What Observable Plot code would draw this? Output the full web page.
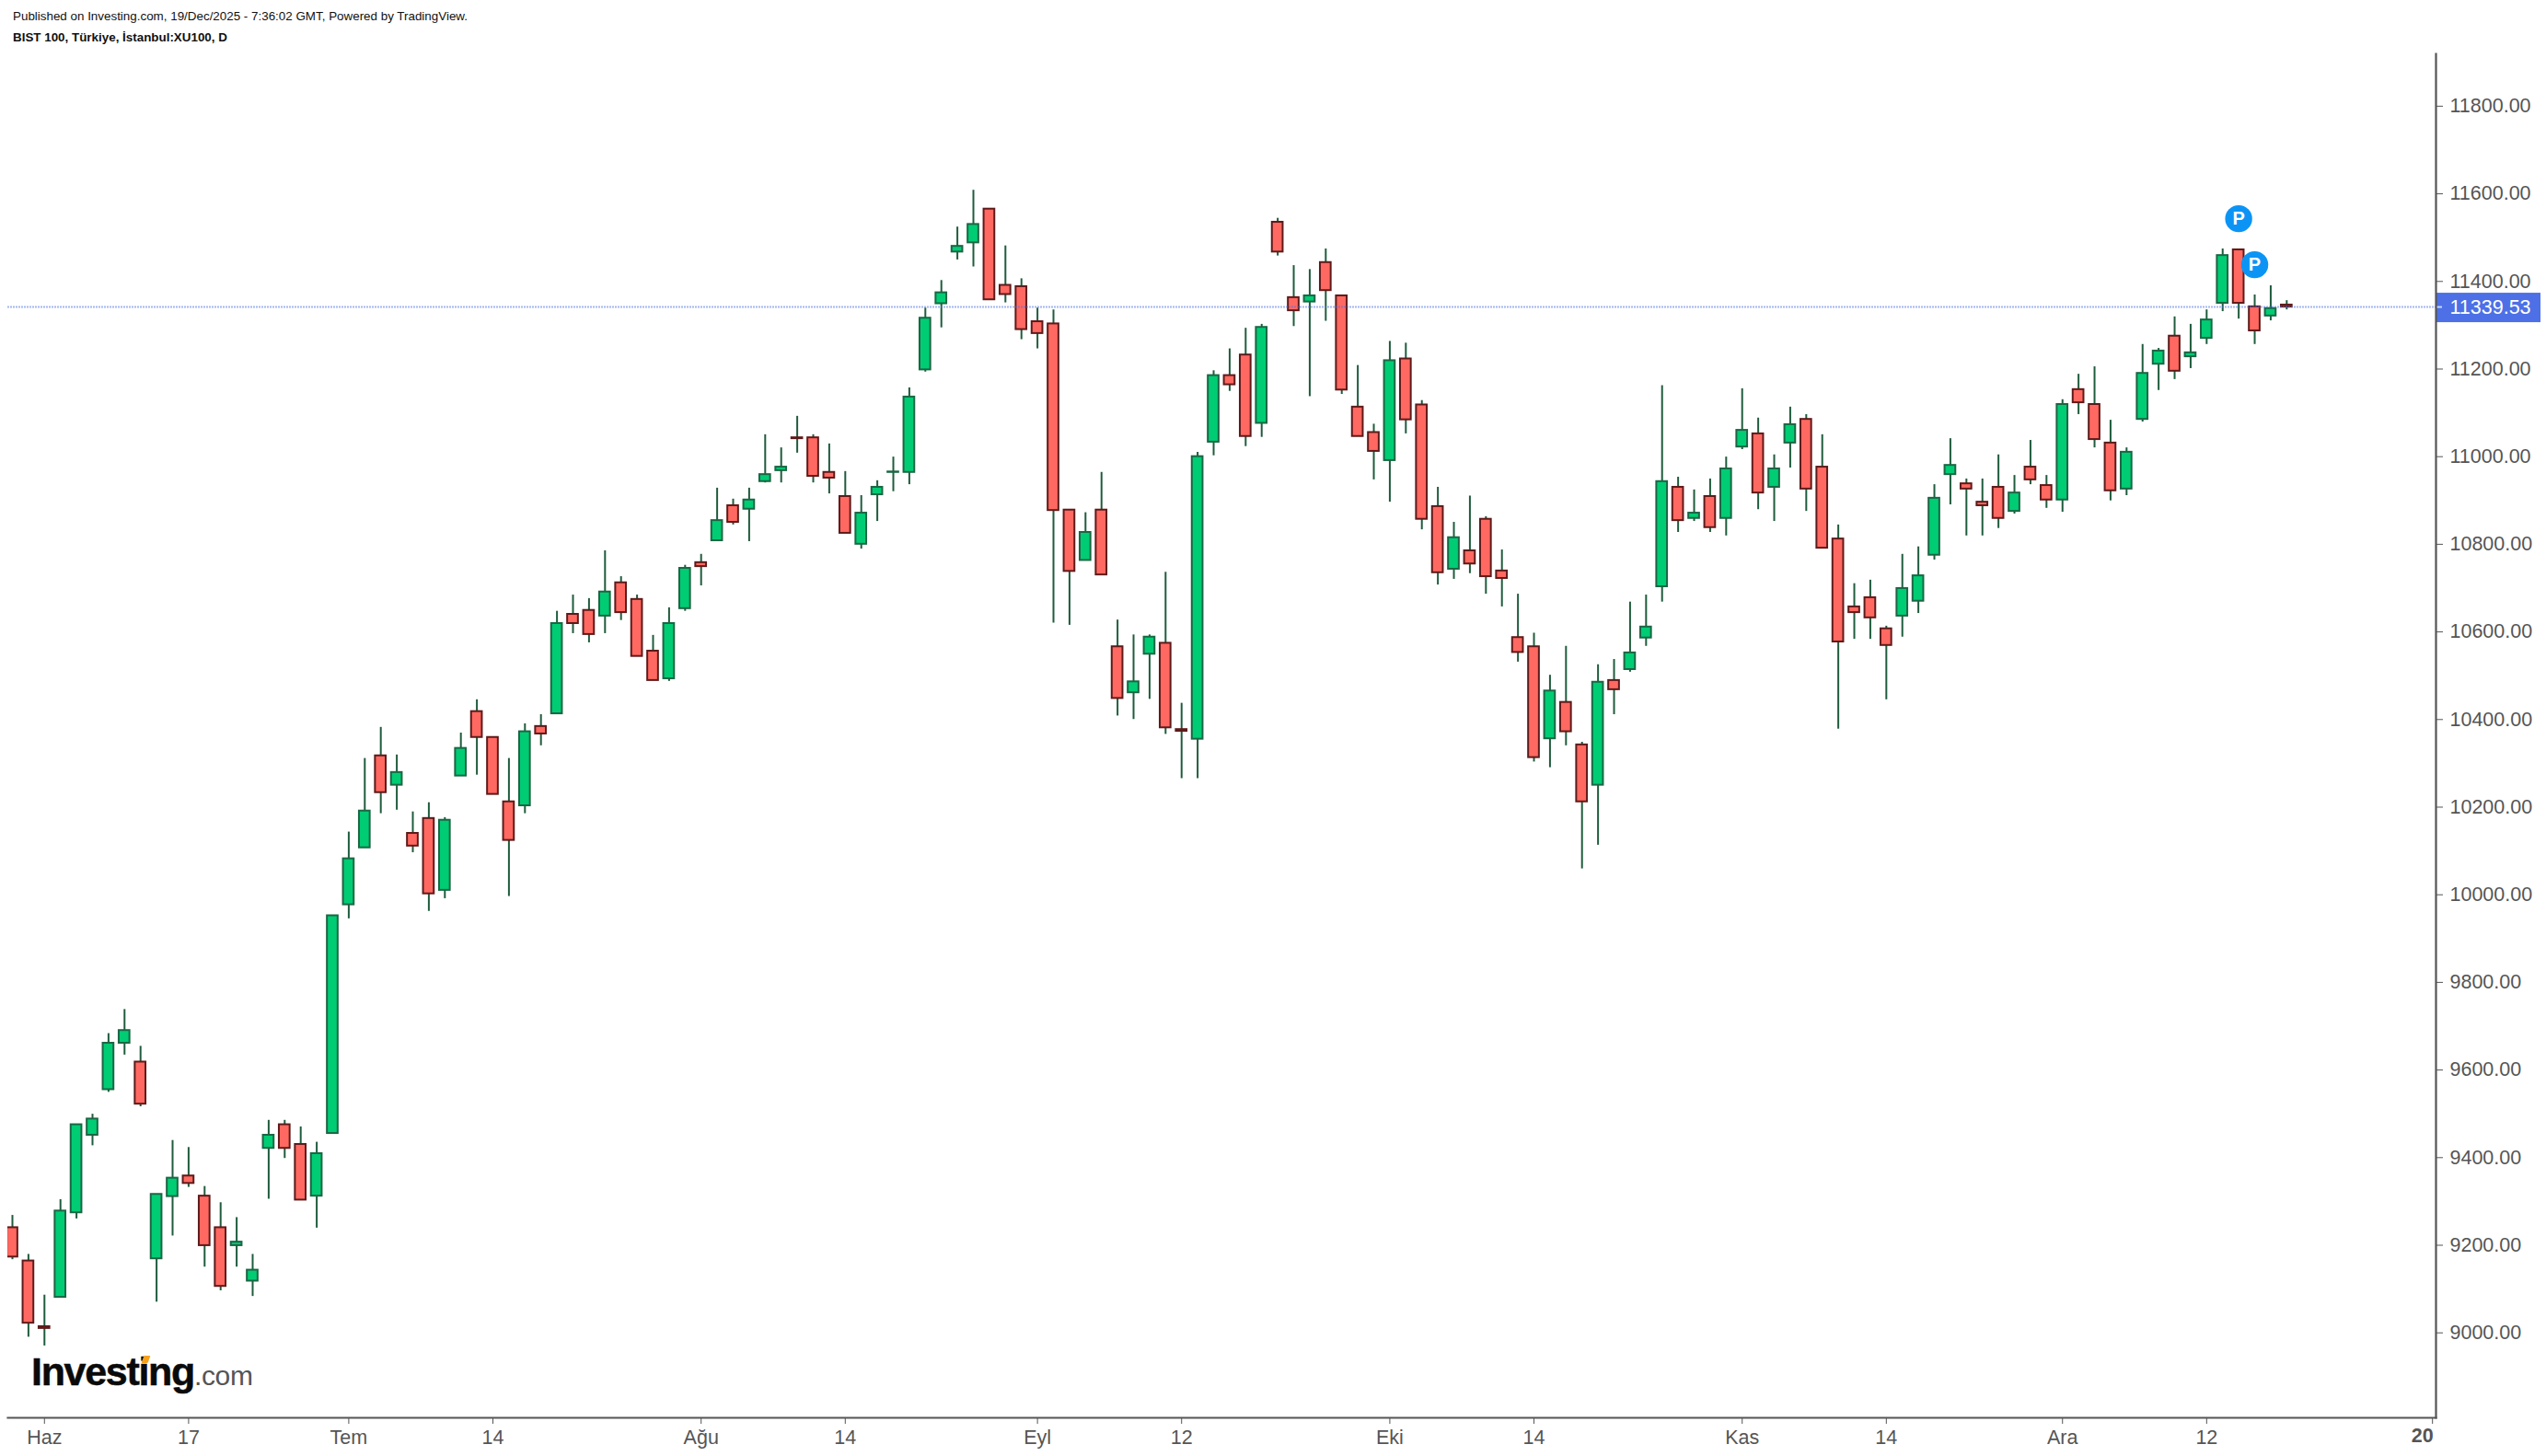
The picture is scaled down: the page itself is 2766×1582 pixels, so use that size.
<!DOCTYPE html>
<html>
<head>
<meta charset="utf-8">
<script src="https://cdn.jsdelivr.net/npm/d3@7"></script>
<script src="https://cdn.jsdelivr.net/npm/@observablehq/plot@0.6"></script>
<style>
html,body{margin:0;padding:0;background:#fff;width:2766px;height:1582px;overflow:hidden;font-family:"Liberation Sans",Arial,sans-serif}
#head{position:relative;height:56px;color:#111}
#head div{position:absolute;left:14px;white-space:nowrap}
#pub{top:10px;font-size:13.4px}
#sym{top:33px;font-size:13.4px;font-weight:bold}
#logo{position:absolute;left:34px;top:1463px;white-space:nowrap;line-height:54px;height:54px;color:#0a0a0a;font-weight:bold;font-size:43px;letter-spacing:-1.3px;-webkit-text-stroke:.5px #0a0a0a}
#logo span.com{font-weight:normal;font-size:30px;color:#555;letter-spacing:-.4px;-webkit-text-stroke:0}
#dot{position:absolute;left:155px;top:1473px;width:7px;height:8px;background:#f7a11a;transform:skewX(-20deg);border-radius:1px}
svg{display:block}
</style>
</head>
<body>
<div id="head">
<div id="pub">Published on Investing.com, 19/Dec/2025 - 7:36:02 GMT, Powered by TradingView.</div>
<div id="sym">BIST 100, Türkiye, İstanbul:XU100, D</div>
</div>
<div id="chart"></div>
<div id="logo">Investing<span class="com">.com</span></div>
<div id="dot"></div>
<script>
const opens = [9238,9162,9012,9079,9272,9449,9553,9659,9616,9167,9309,9356,9310,9238,9197,9116,9419,9473,9428,9310,
9453,9975,10105,10315,10248,10138,10172,10008,10269,10416,10357,10210,10201,10382,10411,10638,10647,10634,10710,10672,
10554,10491,10651,10756,10806,10886,10878,10941,10966,11041,11041,10962,10907,10798,10911,10962,10962,11196,11347,11465,
11486,11563,11389,11386,11306,11301,10876,10761,10876,10564,10459,10547,10572,10375,10353,11031,11183,11230,11074,11533,
11361,11351,11441,11365,11111,11053,10989,11221,11116,10884,10741,10783,10855,10737,10585,10564,10354,10437,10340,10248,
10487,10512,10584,10701,10928,10857,10907,10857,11020,11050,10928,11029,11083,10974,10810,10655,10676,10605,10634,10668,
10773,10957,10936,10894,10928,10873,10974,10932,10899,11151,11117,11029,10924,11083,11209,11273,11226,11268,11348,11470,
11340,11319,11344];
const closes = [9171,9020,9008,9276,9473,9486,9659,9688,9520,9314,9351,9339,9197,9104,9205,9141,9449,9419,9301,9407,
9950,10080,10189,10231,10277,10109,10000,10168,10332,10357,10227,10122,10370,10365,10617,10617,10592,10689,10642,10542,
10487,10617,10743,10747,10852,10848,10899,10957,10974,11039,10953,10949,10823,10869,10928,10963,11134,11314,11372,11478,
11528,11356,11368,11288,11279,10875,10736,10825,10728,10446,10484,10586,10379,10371,10998,11183,11162,11044,11293,11465,
11331,11365,11377,11150,11044,11010,11217,11082,10855,10733,10813,10753,10724,10720,10551,10311,10463,10370,10210,10483,
10466,10550,10609,10941,10852,10869,10836,10970,11058,10915,10970,11071,10924,10789,10575,10642,10630,10567,10697,10726,
10903,10978,10924,10886,10857,10915,10945,10899,11117,11121,11037,10920,11008,11188,11239,11193,11235,11310,11457,11348,
11285,11336,11339.53];
const highs = [9266,9177,9084,9302,9473,9497,9681,9736,9652,9314,9437,9421,9332,9295,9261,9177,9483,9483,9468,9433,
9950,10141,10309,10380,10317,10187,10208,10174,10367,10443,10357,10309,10388,10409,10645,10682,10674,10783,10724,10682,
10590,10653,10750,10775,10926,10901,10926,11048,11018,11090,11048,11027,10964,10909,10943,10997,11155,11337,11400,11522,
11606,11563,11479,11404,11337,11333,10876,10870,10962,10625,10591,10591,10734,10435,11008,11194,11244,11291,11300,11542,
11434,11425,11472,11365,11206,11072,11261,11257,11126,10928,10848,10908,10861,10785,10684,10595,10499,10565,10346,10523,
10535,10666,10682,11160,10951,10922,10947,10997,11153,11086,11002,11111,11094,11048,10842,10708,10716,10611,10775,10792,
10934,11039,10947,10947,11002,10955,11035,10955,11128,11186,11203,11081,11018,11254,11245,11317,11300,11333,11472,11470,
11367,11388,11354];
const lows = [9165,8988,8968,9079,9258,9425,9547,9632,9514,9068,9219,9330,9148,9094,9148,9081,9303,9396,9301,9237,
9453,9943,10105,10183,10191,10094,9960,9989,10269,10271,10227,9994,10183,10338,10411,10594,10573,10594,10624,10542,
10487,10485,10645,10703,10806,10842,10804,10938,10938,11006,10938,10913,10823,10787,10850,10918,10934,11191,11292,11447,
11431,11356,11349,11265,11244,10618,10613,10761,10728,10406,10398,10444,10364,10263,10263,11000,11147,11021,11042,11456,
11295,11135,11307,11140,11044,10945,10894,11050,10831,10705,10718,10731,10684,10655,10529,10301,10288,10338,10057,10111,
10409,10506,10565,10666,10825,10850,10825,10817,11014,10877,10850,10972,10873,10789,10376,10581,10581,10443,10586,10640,
10762,10888,10817,10817,10834,10867,10934,10880,10871,11094,11018,10897,10909,11077,11149,11174,11199,11254,11329,11312,
11254,11308,11333];

const yTicks = [9000,9200,9400,9600,9800,10000,10200,10400,10600,10800,11000,11200,11400,11600,11800];
const xTickIndex = [2,11,21,30,43,52,64,73,86,95,108,117,128,137,151.1];
const xTickLabels = ["Haz","17","Tem","14","Ağu","14","Eyl","12","Eki","14","Kas","14","Ara","12",""];
const yearIndex = [151.1];
const yearLabels = ["20"];
const markerIndex = [139,140];
const markerValue = [11541,11436];
const lastPrice = 11339.53;

const candles = opens.map((o,i)=>({i,open:o,close:closes[i],high:highs[i],low:lows[i]}));
const up = candles.filter(d=>d.close>=d.open);
const down = candles.filter(d=>d.close<d.open);
const halfBody = 0.336;
const body = (fill,stroke)=>({
  x1:d=>d.i-halfBody, x2:d=>d.i+halfBody, y1:"open", y2:"close",
  fill, stroke, strokeWidth:2, clip:true
});
const labelByIndex = new Map(xTickIndex.map((v,k)=>[v,xTickLabels[k]]));

const chart = Plot.plot({
  width:2766, height:1526,
  marginTop:2, marginBottom:42, marginLeft:8, marginRight:120,
  style:{background:"#fff",fontFamily:"'Liberation Sans',Arial,sans-serif"},
  x:{domain:[-0.287,151.32]},
  y:{domain:[8804,11917.4]},
  marks:[
    Plot.ruleX(candles,{x:"i",y1:"low",y2:"high",stroke:"#1f5c3d",strokeWidth:2,clip:true}),
    Plot.rect(up,body("#00cc74","#1b6644")),
    Plot.rect(down,body("#ff6961","#5e1a1a")),
    Plot.ruleY([lastPrice],{x1:-0.287,x2:151.32,stroke:"#4a6fe3",strokeOpacity:0.5,strokeWidth:2,strokeDasharray:"2 1"}),
    Plot.rect([lastPrice],{x1:151.32,x2:157.87,y1:d=>d-35.7,y2:d=>d+31.5,fill:"#4d70e6"}),
    Plot.ruleY([lastPrice],{x1:151.32,x2:151.72,stroke:"#c9d6fa",strokeWidth:2}),
    Plot.text([lastPrice],{y:d=>d,text:d=>d3.format(".2f")(d),frameAnchor:"right",textAnchor:"start",dx:15,dy:1,fill:"#fff",fontSize:21.5}),
    Plot.axisY({anchor:"right",ticks:yTicks,tickFormat:d3.format(".2f"),tickSize:7,tickPadding:8,fontSize:21.5,color:"#555",label:null,dy:1}),
    Plot.axisX({anchor:"bottom",ticks:xTickIndex,tickFormat:d=>labelByIndex.get(d),tickSize:7,tickPadding:6,fontSize:21.5,color:"#555",label:null}),
    Plot.text(yearLabels,{x:yearIndex,text:d=>d,frameAnchor:"bottom",dy:26,dx:-23,textAnchor:"start",fontWeight:"bold",fill:"#555",fontSize:21.5}),
    Plot.frame({anchor:"right",stroke:"#555",strokeWidth:2.2}),
    Plot.frame({anchor:"bottom",stroke:"#555",strokeWidth:2.2}),
    Plot.dot(markerIndex,{x:d=>d,y:(d,k)=>markerValue[k],r:14.7,fill:"#0c94f5"}),
    Plot.text(markerIndex,{x:d=>d,y:(d,k)=>markerValue[k],text:()=>"P",fill:"#fff",fontWeight:"bold",fontSize:20})
  ]
});
document.getElementById("chart").appendChild(chart);
</script>
</body>
</html>
